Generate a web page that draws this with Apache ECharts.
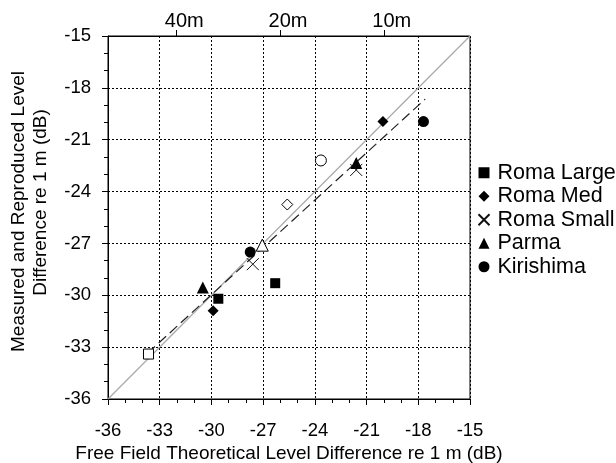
<!DOCTYPE html>
<html>
<head>
<meta charset="utf-8">
<script src="https://cdn.jsdelivr.net/npm/echarts@6/dist/echarts.min.js"></script>
<style>
html,body{margin:0;padding:0;background:#fff;}
#c{width:616px;height:463px;}
</style>
</head>
<body>
<div id="c"></div>
<script>
// ---- data ----
var seriesNames = ['Roma Large', 'Roma Med', 'Roma Small', 'Parma', 'Kirishima'];

var romaLarge      = [[-29.6, -30.2], [-26.3, -29.3]];
var romaLargeOpen  = [[-33.65, -33.4]];
var romaMed        = [[-29.9, -30.9], [-20.05, -19.95]];
var romaMedOpen    = [[-25.6, -24.75]];
var romaSmall      = [[-27.6, -28.2], [-21.6, -22.75]];
var romaSmallOpen  = [];
var parma          = [[-30.5, -29.55], [-21.6, -22.35]];
var parmaOpen      = [[-27.05, -27.1]];
var kirishima      = [[-27.75, -27.5], [-17.7, -19.95]];
var kirishimaOpen  = [[-23.65, -22.2]];

var unityLine = [[-36, -36], [-15, -15]];
var fitLine   = [[-33.7, -33.35], [-17.6, -18.65]];

var topTickValues = [-32.04, -26.02, -20];
var topTickLabels = ['40m', '20m', '10m'];

var xTitle = 'Free Field Theoretical Level Difference re 1 m (dB)';
var yTitle1 = 'Measured and Reproduced Level';
var yTitle2 = 'Difference re 1 m (dB)';

// ---- chart ----
var FONT = 'Liberation Sans, Arial, sans-serif';
var crossPath = 'path://M0,0L10,10M10,0L0,10';

function buildData(filled, open) {
  var d = filled.map(function (p) { return { value: p }; });
  open.forEach(function (p) {
    d.push({ value: p, itemStyle: { color: '#ffffff', borderColor: '#000', borderWidth: 1 } });
  });
  return d;
}

function scatter(name, filled, open, symbol, size, extraStyle) {
  return {
    name: name,
    type: 'scatter',
    symbol: symbol,
    symbolSize: size,
    z: 5,
    itemStyle: Object.assign({ color: '#000', opacity: 1 }, extraStyle || {}),
    data: buildData(filled, open)
  };
}

var chart = echarts.init(document.getElementById('c'), null, { renderer: 'canvas' });

var axisCommon = {
  type: 'value',
  min: -36,
  max: -15,
  interval: 3,
  axisLine: { show: true, onZero: false, lineStyle: { color: '#000', width: 1 } },
  axisTick: { show: true, inside: false, length: 6, lineStyle: { color: '#000', width: 1 } },
  minorTick: { show: true, splitNumber: 3, length: 4, lineStyle: { color: '#000', width: 1 } },
  minorSplitLine: { show: false },
  splitLine: { show: true, lineStyle: { color: '#000', type: [2, 2], width: 1 } },
  axisLabel: { color: '#000', fontFamily: FONT, fontSize: 18.5 }
};

chart.setOption({
  backgroundColor: '#fff',
  animation: false,
  grid: {
    left: 108, right: 146, top: 36, bottom: 64,
    containLabel: false, outerBoundsMode: 'none',
    show: true, borderColor: '#000', borderWidth: 1
  },
  legend: {
    orient: 'vertical',
    left: 477.5,
    top: 161,
    itemWidth: 11,
    itemHeight: 11,
    itemGap: 0,
    padding: 0,
    data: seriesNames,
    textStyle: { color: '#000', fontFamily: FONT, fontSize: 21.5, lineHeight: 23.5, padding: [0, 0, 0, 3] }
  },
  xAxis: [
    Object.assign({}, axisCommon, {
      position: 'bottom',
      axisLabel: Object.assign({}, axisCommon.axisLabel, { margin: 22 }),
      name: xTitle,
      nameLocation: 'middle',
      nameGap: 45,
      nameMoveOverlap: false,
      nameTextStyle: { color: '#000', fontFamily: FONT, fontSize: 19 }
    }),
    {
      type: 'value',
      position: 'top',
      min: -36,
      max: -15,
      axisLine: { show: true, onZero: false, lineStyle: { color: '#000', width: 1 } },
      axisTick: { show: true, inside: false, length: 6, customValues: topTickValues, lineStyle: { color: '#000', width: 1 } },
      splitLine: { show: false },
      axisLabel: {
        show: true,
        customValues: topTickValues,
        margin: 5,
        color: '#000',
        fontFamily: FONT,
        fontSize: 20,
        padding: [0, 0, 0, 16],
        formatter: function (v) {
          var best = 0;
          for (var i = 1; i < topTickValues.length; i++) {
            if (Math.abs(topTickValues[i] - v) < Math.abs(topTickValues[best] - v)) best = i;
          }
          return topTickLabels[best];
        }
      }
    }
  ],
  yAxis: [
    Object.assign({}, axisCommon, {
      position: 'left',
      axisLabel: Object.assign({}, axisCommon.axisLabel, { margin: 17 }),
      name: '{a|' + yTitle1 + '}\n{b|' + yTitle2 + '}',
      nameLocation: 'middle',
      nameGap: 56,
      nameMoveOverlap: false,
      nameTextStyle: {
        color: '#000', fontFamily: FONT, fontSize: 19, lineHeight: 22,
        rich: {
          a: { color: '#000', fontFamily: FONT, fontSize: 19, lineHeight: 22, padding: [0, 0, 0, 12] },
          b: { color: '#000', fontFamily: FONT, fontSize: 19, lineHeight: 22, padding: [0, 0, 0, 30] }
        }
      }
    })
  ],
  series: [
    {
      name: 'unity',
      type: 'line',
      data: unityLine,
      symbol: 'none',
      silent: true,
      z: 2,
      lineStyle: { color: '#a8a8a8', width: 1.2 }
    },
    {
      name: 'fit',
      type: 'line',
      data: fitLine,
      symbol: 'none',
      silent: true,
      z: 3,
      lineStyle: { color: '#222', width: 1.2, type: [10, 5] }
    },
    scatter('Roma Large', romaLarge, romaLargeOpen, 'rect', 10),
    scatter('Roma Med', romaMed, romaMedOpen, 'diamond', 11),
    scatter('Roma Small', romaSmall, romaSmallOpen, crossPath, 12, { color: 'rgba(0,0,0,0)', borderColor: '#111', borderWidth: 1 }),
    scatter('Parma', parma, parmaOpen, 'triangle', 12),
    scatter('Kirishima', kirishima, kirishimaOpen, 'circle', 11)
  ]
});
</script>
</body>
</html>
